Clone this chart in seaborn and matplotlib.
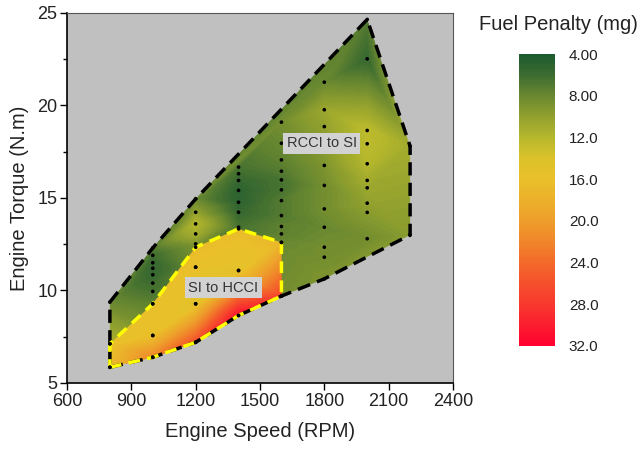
import numpy as np
import matplotlib
matplotlib.use("Agg")
import matplotlib.pyplot as plt
import matplotlib.tri as mtri
from matplotlib.colors import LinearSegmentedColormap, Normalize
from matplotlib.cm import ScalarMappable
from matplotlib.patches import Polygon
import seaborn as sns

# ---------------- data ----------------
# RCCI -> SI mode switch operating points (engine speed, torque, fuel penalty)
rcci_rpm = [800, 800, 800,
            1000, 1000, 1000, 1000, 1000, 1000, 1000, 1000, 1000, 1000,
            1200, 1200, 1200, 1200, 1200, 1200, 1200, 1200,
            1400, 1400, 1400, 1400, 1400, 1400, 1400, 1400, 1400,
            1600, 1600, 1600, 1600, 1600, 1600, 1600, 1600, 1600, 1600, 1600, 1600,
            1800, 1800, 1800, 1800, 1800, 1800, 1800, 1800, 1800, 1800,
            2000, 2000, 2000, 2000, 2000, 2000, 2000, 2000, 2000, 2000,
            2200, 2200]
rcci_torque = [9.37, 7.12, 5.85,
               12.3, 11.9, 11.5, 11.2, 10.85, 10.4, 9.95, 9.28, 7.57, 6.39,
               14.95, 14.23, 13.6, 13.06, 12.52, 11.26, 9.28, 7.2,
               16.67, 16.31, 15.95, 15.41, 14.77, 14.23, 13.42, 11.08, 8.65,
               19.1, 17.96, 17.06, 16.45, 15.98, 15.44, 14.86, 14.05, 13.46, 13.06, 12.6, 9.7,
               21.26, 19.77, 18.86, 16.76, 15.68, 14.41, 13.42, 12.34, 11.8, 10.63,
               24.65, 22.52, 18.65, 17.93, 16.85, 15.95, 15.55, 14.72, 14.22, 12.8,
               17.8, 13.0]
rcci_penalty = [8.0, 11.5, 12.0,
                7.0, 6.0, 5.5, 5.5, 5.5, 6.0, 6.5, 7.5, 9.5, 10.0,
                8.0, 10.0, 12.0, 11.0, 9.0, 8.0, 9.0, 10.0,
                6.5, 6.0, 5.5, 5.0, 5.0, 5.5, 6.5, 8.0, 9.0,
                8.5, 8.0, 7.5, 7.0, 6.5, 6.5, 7.0, 7.0, 7.5, 7.5, 8.0, 8.5,
                8.0, 10.5, 10.0, 9.0, 8.5, 8.5, 8.0, 8.5, 8.5, 9.0,
                7.0, 5.5, 12.5, 12.5, 12.0, 11.0, 10.5, 10.0, 9.5, 8.5,
                11.0, 9.5]

# SI -> HCCI mode switch operating points
hcci_rpm = [800, 800, 1000, 1000, 1000, 1200, 1200, 1200, 1200,
            1400, 1400, 1400, 1600, 1600]
hcci_torque = [7.12, 5.85, 9.28, 7.57, 6.39, 12.34, 11.26, 9.28, 7.2,
               13.33, 11.08, 8.65, 12.6, 9.7]
hcci_penalty = [15.5, 17.0, 16.0, 16.0, 22.0, 16.5, 15.5, 15.0, 26.0,
                16.5, 15.0, 31.0, 17.0, 27.0]

# region outlines (operating-map boundaries)
outer_edge_rpm = [800, 1000, 1200, 1400, 1600, 1800, 2200, 2200, 2000, 1200, 1000, 800]
outer_edge_torque = [5.85, 6.39, 7.2, 8.65, 9.7, 10.63, 13.0, 17.8, 24.65, 14.95, 12.3, 9.37]
inner_edge_rpm = [800, 1000, 1200, 1400, 1600, 1600, 1400, 1200, 1000, 800]
inner_edge_torque = [5.85, 6.39, 7.2, 8.65, 9.7, 12.6, 13.33, 12.34, 9.28, 7.12]

region_labels = ["RCCI to SI", "SI to HCCI"]
cbar_ticks = [4, 8, 12, 16, 20, 24, 28, 32]
cbar_tick_labels = ["4.00", "8.00", "12.0", "16.0", "20.0", "24.0", "28.0", "32.0"]
x_ticks = [600, 900, 1200, 1500, 1800, 2100, 2400]
y_ticks = [5, 10, 15, 20, 25]

cmap_colors = ["#1c5a2e", "#3d6c30", "#6a8830", "#92a12e", "#b6b72c", "#dcc22a",
               "#eac02a", "#ebb02a", "#ee9e2b", "#f0862a", "#f36a2a", "#f5502c",
               "#f8382e", "#fb1e2f", "#ff0030"]

# ---------------- style ----------------
sns.set_theme(style="ticks")
plt.rcParams['font.family'] = ['Liberation Sans', 'DejaVu Sans']

cmap = LinearSegmentedColormap.from_list("penalty", cmap_colors)
vmin, vmax = 4, 32

fig = plt.figure(figsize=(6.41, 4.54), dpi=100)
ax = fig.add_axes([0.1045, 0.1564, 0.6022, 0.815])
ax.set_facecolor('#c0c0c0')

levels = np.linspace(vmin, vmax, 141)
datasets = [(rcci_rpm, rcci_torque, rcci_penalty, outer_edge_rpm, outer_edge_torque, 1),
            (hcci_rpm, hcci_torque, hcci_penalty, inner_edge_rpm, inner_edge_torque, 2)]
for rpm, tq, pen, erpm, etq, z in datasets:
    tri = mtri.Triangulation(np.asarray(rpm, float), np.asarray(tq, float))
    cs = ax.tricontourf(tri, pen, levels=levels, cmap=cmap, vmin=vmin, vmax=vmax,
                        extend='both', zorder=z, antialiased=False)
    clip = Polygon(np.column_stack([erpm, etq]), closed=True, transform=ax.transData,
                   facecolor='none', edgecolor='none')
    ax.add_patch(clip)
    cs.set_clip_path(clip)

# sample points
sns.scatterplot(x=rcci_rpm + hcci_rpm, y=rcci_torque + hcci_torque, color='black',
                s=7, edgecolor='none', linewidth=0, ax=ax, zorder=5, legend=False)

# region outlines
ax.plot(outer_edge_rpm + outer_edge_rpm[:1], outer_edge_torque + outer_edge_torque[:1],
        color='black', lw=2.5, dashes=(3.8, 2.1), zorder=4)
ax.plot(inner_edge_rpm + inner_edge_rpm[:1], inner_edge_torque + inner_edge_torque[:1],
        color='#ffff00', lw=2.5, dashes=(3.4, 2.1), zorder=4)

box = dict(facecolor='#d2d2d2', edgecolor='none', pad=2.5)
ax.text(1788, 17.96, region_labels[0], ha='center', va='center', fontsize=10.5,
        color='#333333', bbox=box, zorder=6)
ax.text(1329, 10.15, region_labels[1], ha='center', va='center', fontsize=10.5,
        color='#333333', bbox=box, zorder=6)

ax.set_xlim(600, 2400)
ax.set_ylim(5, 25)
ax.set_xticks(x_ticks)
ax.set_yticks(y_ticks)
ax.set_yticks([7.5, 12.5, 17.5, 22.5], minor=True)
ax.tick_params(axis='both', which='major', labelsize=13, length=5, width=1,
               color='black', labelcolor='#222222', direction='out', pad=2)
ax.tick_params(axis='y', which='minor', length=3, width=1, color='black', direction='out')
ax.tick_params(top=False, right=False, which='both')
for side in ['left', 'bottom']:
    ax.spines[side].set_color('black')
    ax.spines[side].set_linewidth(1.2)
for side in ['top', 'right']:
    ax.spines[side].set_color('#555555')
    ax.spines[side].set_linewidth(0.8)
ax.grid(False)

ax.set_xlabel("Engine Speed (RPM)", fontsize=14.5, color='#222222', labelpad=9)
ax.set_ylabel("Engine Torque (N.m)", fontsize=14.5, color='#222222', labelpad=6)

# colorbar
cax = fig.add_axes([0.8097, 0.2379, 0.0561, 0.643])
sm = ScalarMappable(norm=Normalize(vmin, vmax), cmap=cmap)
cb = fig.colorbar(sm, cax=cax)
cax.set_ylim(vmax, vmin)
cb.set_ticks(cbar_ticks)
cb.set_ticklabels(cbar_tick_labels)
cax.tick_params(length=0, labelsize=11, pad=10, labelcolor='#222222')
cb.outline.set_visible(False)
fig.text(0.8705, 0.945, "Fuel Penalty (mg)", ha='center', va='center', fontsize=14.5,
         color='#222222')

fig.savefig("out.png", dpi=100)
